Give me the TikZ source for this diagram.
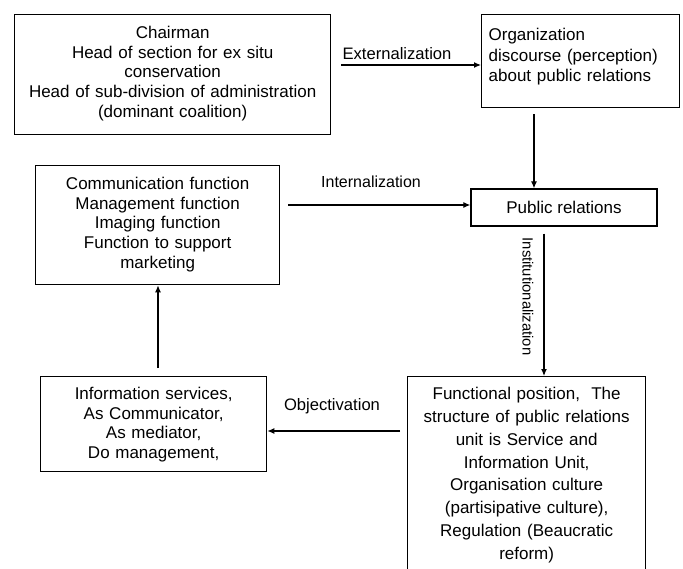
\documentclass[tikz,border=0pt]{standalone}
\usepackage{fontspec}
\setmainfont{Liberation Sans}
\usetikzlibrary{arrows.meta}
\begin{document}
\begin{tikzpicture}[x=1pt,y=1pt,
  box/.style={draw, line width=1.3pt, inner sep=0pt, align=center, anchor=north west,
    font=\fontsize{17}{19.6}\selectfont},
  lbl/.style={inner sep=0pt, font=\fontsize{16.6}{19}\selectfont},
  arr/.style={line width=1.2pt, -{Latex[length=7pt,width=6pt]}}]
\useasboundingbox (0,0) rectangle (683,-568);
\clip (0,0) rectangle (683,-568);
% boxes
\node[box, text width=316pt, text height=24pt, text depth=96pt] (b1) at (14,-14)
  {Chairman\\Head of section for ex situ\\conservation\\Head of sub-division of administration\\(dominant coalition)};
\node[box, align=left, inner xsep=7pt, text width=184pt, text height=26pt, text depth=67pt,
  font=\fontsize{17}{20.5}\selectfont] (b2) at (481,-14)
  {Organization\\discourse (perception)\\about public relations};
\node[draw, line width=1.3pt, inner sep=0pt, minimum width=186pt, minimum height=37pt,
  font=\fontsize{17}{19.6}\selectfont] (pr) at (564,-207.5) {Public relations};
\node[box, text width=244pt, text height=24pt, text depth=95pt] (b3) at (35,-165)
  {Communication function\\Management function\\Imaging function\\Function to support\\marketing};
\node[box, text width=226pt, text height=23pt, text depth=72pt] (b4) at (40,-376)
  {Information services,\\As Communicator,\\As mediator,\\Do management,};
\node[box, text width=238pt, text height=23pt, text depth=220pt,
  font=\fontsize{17}{22.8}\selectfont] (b5) at (407,-376)
  {Functional position,\ \ The\\structure of public relations\\unit is Service and\\Information Unit,\\Organisation culture\\(partisipative culture),\\Regulation (Beaucratic\\reform)};
% labels
\node[lbl] (lext) at (397,-54) {Externalization};
\node[lbl, font=\fontsize{16}{19}\selectfont] (lint) at (371,-182) {Internalization};
\node[lbl] (lobj) at (332,-406) {Objectivation};
\node[lbl, rotate=-90, font=\fontsize{14.8}{17}\selectfont] (linst) at (528,-296.5) {Institutionalization};
% connectors
\draw[arr, shorten <=10pt] (b1.east |- 0,-65) -- (b2.west |- 0,-65);
\draw[arr, shorten <=6pt] (b2.south -| 534,0) -- (pr.north -| 534,0);
\draw[arr, shorten <=8pt] (b3.east |- 0,-205) -- (pr.west |- 0,-205);
\draw[arr, shorten <=7pt] (pr.south -| 544,0) -- (b5.north -| 544,0);
\draw[arr, shorten <=7pt] (b5.west |- 0,-431) -- (b4.east |- 0,-431);
\draw[arr, shorten <=8pt] (b4.north -| 158,0) -- (b3.south -| 158,0);
\end{tikzpicture}
\end{document}
